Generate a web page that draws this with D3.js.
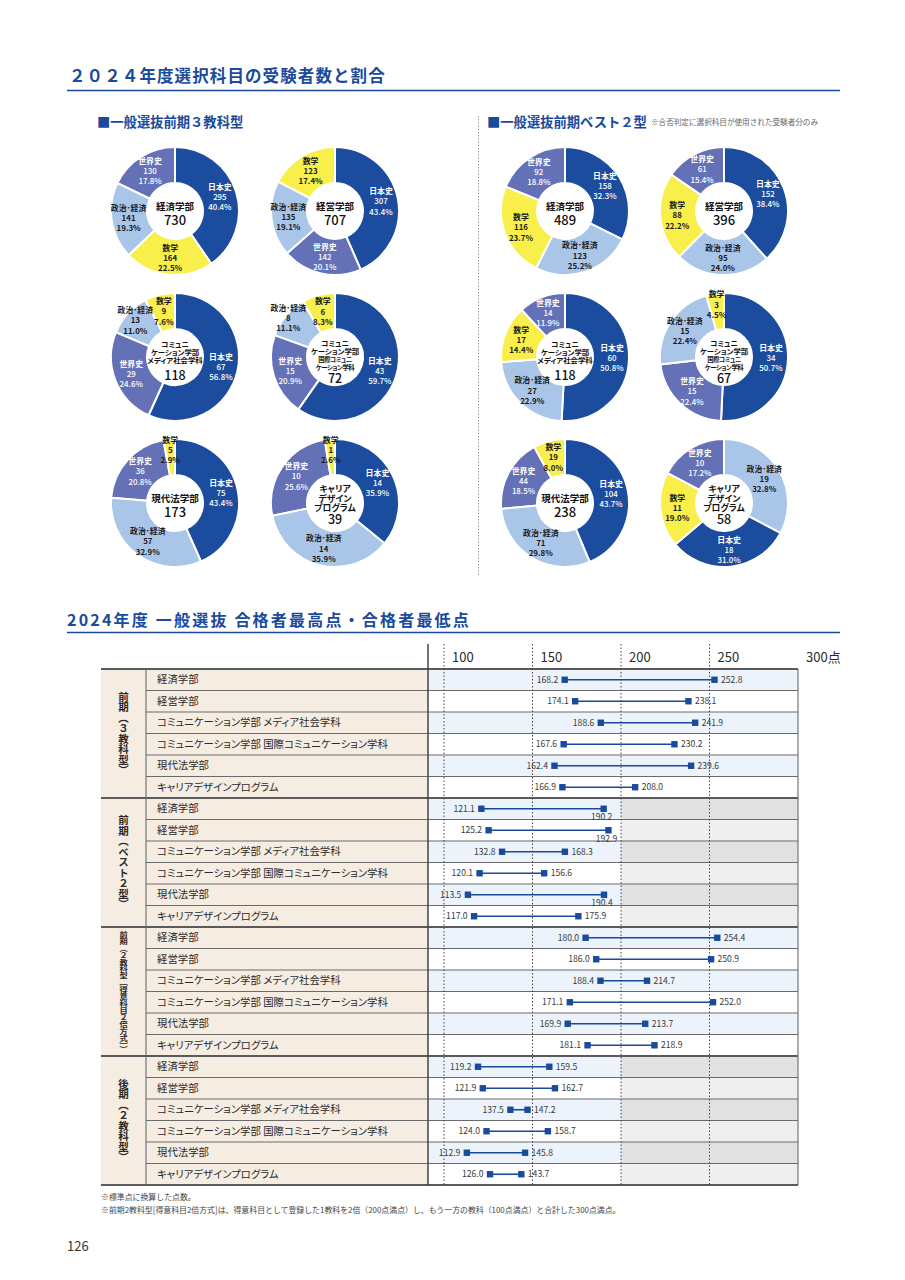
<!DOCTYPE html>
<html><head><meta charset="utf-8">
<script src="https://cdn.jsdelivr.net/npm/d3@7"></script>
<style>
body{margin:0;background:#fff;}
svg{display:block;font-family:"Noto Sans CJK JP","Noto Sans",sans-serif;}
.palt{font-feature-settings:"palt" 1;}
</style></head><body>
<svg id="c" width="905" height="1280"></svg>
<script>
// ---------------- DATA ----------------
const subjects = ["日本史","世界史","政治･経済","数学"];
const depts = ["経済学部","経営学部","コミュニケーション学部 メディア社会学科","コミュニケーション学部 国際コミュニケーション学科","現代法学部","キャリアデザインプログラム"];
const pieCenterLines = [["経済学部"],["経営学部"],["コミュニ","ケーション学部","メディア社会学科"],["コミュニ","ケーション学部","国際コミュニ","ケーション学科"],["現代法学部"],["キャリア","デザイン","プログラム"]];
// counts per dept: [日本史, 世界史, 政治・経済, 数学]
const counts3 = [[295,130,141,164],[307,142,135,123],[67,29,13,9],[43,15,8,6],[75,36,57,5],[14,10,14,1]];
const pct3    = [[40.4,17.8,19.3,22.5],[43.4,20.1,19.1,17.4],[56.8,24.6,11.0,7.6],[59.7,20.9,11.1,8.3],[43.4,20.8,32.9,2.9],[35.9,25.6,35.9,2.6]];
const countsB2 = [[158,92,123,116],[152,61,95,88],[60,14,27,17],[34,15,15,3],[104,44,71,19],[18,10,19,11]];
const pctB2    = [[32.3,18.8,25.2,23.7],[38.4,15.4,24.0,22.2],[50.8,11.9,22.9,14.4],[50.7,22.4,22.4,4.5],[43.7,18.5,29.8,8.0],[31.0,17.2,32.8,19.0]];

const groupLabels = ["前期（３教科型）","前期（ベスト２型）","前期（２教科型［得意科目２倍方式］）","後期（２教科型）"];
const groupFullMarks = [300,200,300,200];
const minScores = [[168.2,174.1,188.6,167.6,162.4,166.9],[121.1,125.2,132.8,120.1,113.5,117.0],[180.0,186.0,188.4,171.1,169.9,181.1],[119.2,121.9,137.5,124.0,112.9,126.0]];
const maxScores = [[252.8,238.1,241.9,230.2,239.6,208.0],[190.2,192.9,168.3,156.6,190.4,175.9],[254.4,250.9,214.7,252.0,213.7,218.9],[159.5,162.7,147.2,158.7,145.8,143.7]];
const axisTicks = [100,150,200,250,300];
const axisTickLabels = ["100","150","200","250","300点"];

// ---------------- STYLE ----------------
const BLUE = "#1a4a9c";
const subjectColors = ["#1b4c9e","#6571b7","#a9c5e7","#f9ef4b"];
const subjectTextColors = ["#ffffff","#ffffff","#1a1a1a","#1a1a1a"];
// label radius nudges: key "side-dept-subject"
const labelRadiusNudge = {"0-2-2":54, "0-3-2":61};

const svg = d3.select("#c");
const fmt1 = d3.format(".1f");

// ---------------- TITLE 1 ----------------
svg.append("text").attr("x",69).attr("y",82).attr("fill",BLUE)
  .attr("font-size",16.5).attr("font-weight",700).attr("letter-spacing",1.1)
  .text("２０２４年度選択科目の受験者数と割合");
svg.append("line").attr("x1",67).attr("x2",840).attr("y1",90.5).attr("y2",90.5).attr("stroke",BLUE).attr("stroke-width",1.3);

svg.append("text").attr("x",97).attr("y",127).attr("fill",BLUE).attr("font-size",13.3).attr("font-weight",700)
  .text("■一般選抜前期３教科型");
svg.append("text").attr("x",487).attr("y",127).attr("fill",BLUE).attr("font-size",13.3).attr("font-weight",700)
  .text("■一般選抜前期ベスト２型");
svg.append("text").attr("x",651).attr("y",125).attr("fill","#666").attr("font-size",7.6)
  .text("※合否判定に選択科目が使用された受験者分のみ");
svg.append("line").attr("x1",478.5).attr("x2",478.5).attr("y1",116).attr("y2",576)
  .attr("stroke","#888").attr("stroke-dasharray","1.2,2").attr("stroke-width",1);

// ---------------- PIES ----------------
const colX = [[175,335],[565,724]];
const rowY = d3.scaleLinear().domain([0,2]).range([211,503]);
const R = 64, R0 = 28;
const arcGen = d3.arc().innerRadius(R0).outerRadius(R);
const pieGen = d3.pie().value(d=>d.v);

// center text styling per dept (baselines relative to centre)
const centerStyle = [
  {fs:9.5, base:[-1.5], tfs:13, tBase:13.5},
  {fs:9.5, base:[-1.5], tfs:13, tBase:13.5},
  {fs:7.4, base:[-9.8,-2.1,5.7], tfs:12.5, tBase:23},
  {fs:7.4, base:[-10.6,-2.9,5.2,12.8], small:[2,3], tfs:12.5, tBase:25.5},
  {fs:9.5, base:[-1.5], tfs:13, tBase:13.5},
  {fs:8.8, base:[-11,-1.2,8], tfs:12.5, tBase:21}
];

function drawPie(cx, cy, counts, pcts, di, side){
  const g = svg.append("g").attr("transform",`translate(${cx},${cy})`);
  const data = subjects.map((s,i)=>({i, v:counts[i], p:pcts[i]}));
  const arcs = pieGen(data);
  g.selectAll("path").data(arcs).join("path")
    .attr("d",arcGen).attr("fill",d=>subjectColors[d.data.i])
    .attr("stroke","#fff").attr("stroke-width",2);
  g.append("circle").attr("r",R0).attr("fill","#fff");
  arcs.forEach(a=>{
    const key = `${side}-${di}-${a.data.i}`;
    const lr = labelRadiusNudge[key] || (a.data.p < 5 ? 53 : 47);
    const [x,y] = d3.arc().innerRadius(lr).outerRadius(lr).centroid(a);
    const t = g.append("text").attr("class","palt").attr("text-anchor","middle").attr("font-size",7.9)
      .attr("fill",subjectTextColors[a.data.i]);
    const lines = [subjects[a.data.i], String(a.data.v), fmt1(a.data.p)+"%"];
    lines.forEach((l,k)=>{
      t.append("tspan").attr("x",x).attr("y",y + (k-1)*10.2 + 3).text(l)
        .attr("font-weight", (k==0 || a.data.i>=2) ? 700 : 500);
    });
  });
  // center
  const st = centerStyle[di];
  const names = pieCenterLines[di];
  const ct = g.append("text").attr("class","palt").attr("text-anchor","middle").attr("fill","#111");
  names.forEach((n,k)=>{
    const small = st.small && st.small.includes(k);
    ct.append("tspan").attr("x",0).attr("y", st.base[k])
      .attr("font-size", small ? 6.3 : st.fs).attr("font-weight",700)
      .attr("letter-spacing", small ? -0.4 : 0)
      .text(n);
  });
  ct.append("tspan").attr("x",0).attr("y",st.tBase)
    .attr("font-size",st.tfs).attr("font-weight",500)
    .text(d3.sum(counts));
}

[counts3, countsB2].forEach((cs,side)=>{
  const ps = side===0 ? pct3 : pctB2;
  cs.forEach((c,di)=>{
    drawPie(colX[side][di%2], rowY(Math.floor(di/2)), c, ps[di], di, side);
  });
});

// ---------------- TITLE 2 ----------------
svg.append("text").attr("x",67).attr("y",626).attr("fill",BLUE)
  .attr("font-size",16).attr("font-weight",700).attr("letter-spacing",2.2)
  .text("2024年度 一般選抜 合格者最高点・合格者最低点");
svg.append("line").attr("x1",67).attr("x2",840).attr("y1",632.5).attr("y2",632.5).attr("stroke",BLUE).attr("stroke-width",1.3);

// ---------------- TABLE ----------------
const x = d3.scaleLinear().domain([100,300]).range([444,798]);
const plotL = 428, plotR = 798, nameL = 146, grpL = 101;
const tableTop = 669, headerTop = 644;
const rowH = 21.5, nRows = 6;
const rowTop = (g,i)=> tableTop + (g*nRows + i)*rowH;
const tableBottom = rowTop(groupLabels.length,0);

const T = svg.append("g");
const BEIGE = "#f5ece2", LBLUE = "#ecf3fb", GRAY1 = "#e1e1e1", GRAY2 = "#efefef";

groupLabels.forEach((gl,g)=>{
  const gy = rowTop(g,0);
  T.append("rect").attr("x",grpL).attr("y",gy).attr("width",plotL-grpL).attr("height",rowH*nRows).attr("fill",BEIGE);
  for(let i=0;i<nRows;i++){
    const ry = rowTop(g,i);
    T.append("rect").attr("x",plotL).attr("y",ry).attr("width",plotR-plotL).attr("height",rowH)
      .attr("fill", i%2===0 ? LBLUE : "#fff");
    if(groupFullMarks[g] < 300){
      T.append("rect").attr("x",x(groupFullMarks[g])).attr("y",ry).attr("width",plotR-x(groupFullMarks[g])).attr("height",rowH)
        .attr("fill", i%2===0 ? GRAY1 : GRAY2);
    }
    if(i>0){
      T.append("line").attr("x1",nameL).attr("x2",plotR).attr("y1",ry).attr("y2",ry)
        .attr("stroke","#6a6a6a").attr("stroke-width",1.1);
    }
    T.append("text").attr("class","palt").attr("x",157).attr("y",ry+rowH/2+3.6).attr("font-size",10.4).attr("fill","#2a2a2a")
      .text(depts[i]);
  }
  // vertical group label
  const long = gl.length > 10;
  T.append("text").attr("x",123.5).attr("y",gy + rowH*nRows/2)
    .attr("text-anchor","middle").attr("dominant-baseline","central")
    .style("writing-mode","vertical-rl")
    .attr("font-size", long ? 8.2 : 10.5).attr("fill","#2a2a2a").attr("font-weight",700)
    .attr("textLength", long ? 122 : null).attr("lengthAdjust","spacingAndGlyphs")
    .text(gl);
});

// group separators
d3.range(groupLabels.length+1).forEach(g=>{
  T.append("line").attr("x1",grpL).attr("x2",plotR).attr("y1",rowTop(g,0)).attr("y2",rowTop(g,0))
    .attr("stroke","#5a5a5a").attr("stroke-width",2.2);
});
// verticals
T.append("line").attr("x1",nameL).attr("x2",nameL).attr("y1",tableTop).attr("y2",tableBottom).attr("stroke","#6a6a6a").attr("stroke-width",1.1);
T.append("line").attr("x1",plotR).attr("x2",plotR).attr("y1",tableTop).attr("y2",tableBottom).attr("stroke","#6a6a6a").attr("stroke-width",1.1);
T.append("line").attr("x1",plotL).attr("x2",plotL).attr("y1",headerTop).attr("y2",tableBottom).attr("stroke","#444").attr("stroke-width",1.5);

// axis: dotted gridlines + header labels
axisTicks.forEach((t,k)=>{
  if(t<300){
    T.append("line").attr("x1",x(t)).attr("x2",x(t)).attr("y1",headerTop).attr("y2",tableBottom)
      .attr("stroke","#444").attr("stroke-width",1).attr("stroke-dasharray","1.5,2");
  }
  T.append("text").attr("x",x(t)+8).attr("y",662).attr("font-size",13).attr("fill","#2a2a2a")
    .text(axisTickLabels[k]);
});

// dumbbells
const sq = 6.4;
groupLabels.forEach((gl,g)=>{
  minScores[g].forEach((mn,i)=>{
    const mx = maxScores[g][i];
    const cy = rowTop(g,i) + rowH/2;
    T.append("line").attr("x1",x(mn)).attr("x2",x(mx)).attr("y1",cy).attr("y2",cy).attr("stroke",BLUE).attr("stroke-width",1.6);
    [mn,mx].forEach(v=>{
      T.append("rect").attr("x",x(v)-sq/2).attr("y",cy-sq/2).attr("width",sq).attr("height",sq).attr("fill",BLUE);
    });
    T.append("text").attr("x",x(mn)-6.5).attr("y",cy+3).attr("text-anchor","end").attr("font-size",8.6).attr("fill","#3a3a3a").text(fmt1(mn));
    const below = groupFullMarks[g] < 300 && x(mx) + 30 > x(groupFullMarks[g]);
    if(below){
      T.append("text").attr("x",x(mx)-2).attr("y",cy+11.5).attr("text-anchor","middle").attr("font-size",8.6).attr("fill","#3a3a3a").text(fmt1(mx));
    } else {
      T.append("text").attr("x",x(mx)+6.5).attr("y",cy+3).attr("text-anchor","start").attr("font-size",8.6).attr("fill","#3a3a3a").text(fmt1(mx));
    }
  });
});

// footnotes
svg.append("text").attr("x",101).attr("y",1200).attr("font-size",7.9).attr("fill","#444").text("※標準点に換算した点数。");
svg.append("text").attr("x",101).attr("y",1213).attr("font-size",7.9).attr("fill","#444")
  .text("※前期2教科型[得意科目2倍方式]は、得意科目として登録した1教科を2倍（200点満点）し、もう一方の教科（100点満点）と合計した300点満点。");
svg.append("text").attr("x",67).attr("y",1251).attr("font-size",13).attr("fill","#333").text("126");
</script>
</body></html>
